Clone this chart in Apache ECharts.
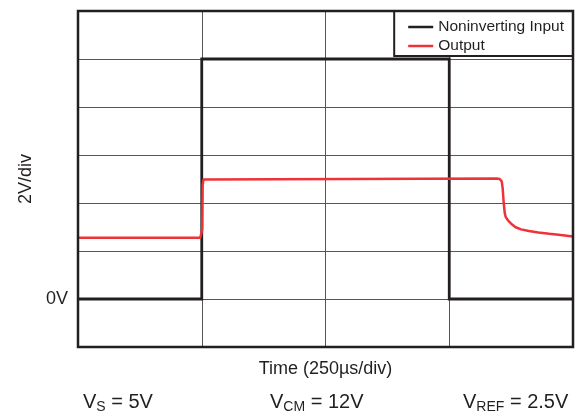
<!DOCTYPE html>
<html>
<head>
<meta charset="utf-8">
<script src="https://cdn.jsdelivr.net/npm/echarts@6/dist/echarts.min.js"></script>
<style>html,body{margin:0;padding:0;background:#fff}#c{width:586px;height:419px}</style>
</head>
<body>
<div id="c"></div>
<script>
// Time in microseconds, voltage in volts
var inputTime = [0, 250, 250, 750, 750, 1000];
var inputVolt = [0, 0, 10, 10, 0, 0];
var outputTime = [0, 247, 249.5, 251, 251.8, 253.5, 256, 846, 852, 856, 858, 860, 862, 864, 867, 871, 877, 884, 895, 911, 930, 952, 975, 1000];
var outputVolt = [2.55, 2.55, 2.6, 2.9, 4.75, 4.98, 5.02, 5.02, 5.0, 4.9, 4.6, 4.0, 3.6, 3.42, 3.32, 3.22, 3.1, 2.99, 2.9, 2.83, 2.77, 2.72, 2.67, 2.6];
var seriesNames = ['Noninverting Input', 'Output'];
var yLabelValue = 0;
var yLabelText = '0V';
var yAxisTitle = '2V/div';
var xAxisTitle = 'Time (250\u00b5s/div)';
var notes = [
  ['V', 'S', ' = 5V'],
  ['V', 'CM', ' = 12V'],
  ['V', 'REF', ' = 2.5V']
];

function zip(a, b) { return a.map(function (x, i) { return [x, b[i]]; }); }

var FONT = 'Liberation Sans';
var chart = echarts.init(document.getElementById('c'));
var richStyle = {
  a: { fontSize: 20, fontFamily: FONT, fontWeight: 'normal', color: '#231f20' },
  s: { fontSize: 14, fontFamily: FONT, fontWeight: 'normal', color: '#231f20', padding: [9, 0, 0, 0] }
};
var noteLeft = [83, 270, 463];
var titles = notes.map(function (n, i) {
  return {
    text: '{a|' + n[0] + '}{s|' + n[1] + '}{a|' + n[2] + '}',
    left: noteLeft[i], top: 391, padding: 0,
    textStyle: { fontWeight: 'normal', rich: richStyle }
  };
});

chart.setOption({
  animation: false,
  title: titles,
  legend: {
    data: seriesNames,
    orient: 'vertical',
    right: 13, top: 11,
    padding: [8, 9, 2, 14],
    itemGap: 3,
    itemWidth: 25, itemHeight: 2.5,
    icon: 'rect',
    borderColor: '#231f20', borderWidth: 2,
    backgroundColor: '#fff',
    textStyle: { fontFamily: FONT, fontSize: 15.5, color: '#231f20' }
  },
  grid: {
    left: 78, right: 13, top: 11, bottom: 72,
    show: true, borderColor: '#231f20', borderWidth: 2.5, backgroundColor: 'transparent', z: 10
  },
  xAxis: {
    type: 'value', min: 0, max: 1000, interval: 250,
    name: xAxisTitle, nameLocation: 'middle', nameGap: 13,
    nameTextStyle: { fontFamily: FONT, fontSize: 18, color: '#231f20', verticalAlign: 'top' },
    axisLine: { show: false }, axisTick: { show: false }, axisLabel: { show: false },
    splitLine: { show: true, lineStyle: { color: '#555', width: 1 } }
  },
  yAxis: {
    type: 'value', min: -2, max: 12, interval: 2,
    name: yAxisTitle, nameLocation: 'middle', nameGap: 38, nameRotate: 90,
    nameTextStyle: { fontFamily: FONT, fontSize: 18, color: '#231f20' },
    axisLine: { show: false }, axisTick: { show: false },
    axisLabel: {
      margin: 10, fontFamily: FONT, fontSize: 18, color: '#231f20',
      formatter: function (v) { return v === yLabelValue ? yLabelText : ''; }
    },
    splitLine: { show: true, lineStyle: { color: '#555', width: 1 } }
  },
  series: [
    {
      name: seriesNames[0], type: 'line', data: zip(inputTime, inputVolt),
      symbol: 'none', lineStyle: { color: '#231f20', width: 2.8, join: 'miter' },
      itemStyle: { color: '#231f20' }, z: 3
    },
    {
      name: seriesNames[1], type: 'line', data: zip(outputTime, outputVolt),
      symbol: 'none', lineStyle: { color: '#ee3338', width: 2.5 },
      itemStyle: { color: '#ee3338' }, z: 4
    }
  ]
});
</script>
</body>
</html>
